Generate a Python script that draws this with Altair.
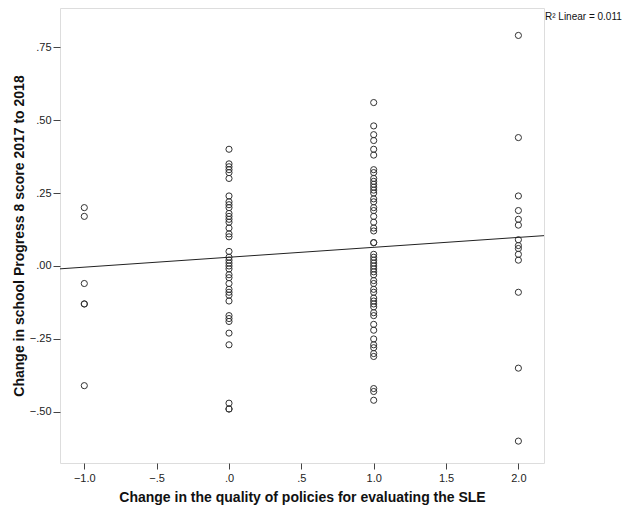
import altair as alt
import pandas as pd

# x = -1
y_m1 = [0.20, 0.17, -0.06, -0.13, -0.13, -0.41]
# x = 0
y_0 = [0.40, 0.35, 0.34, 0.33, 0.32, 0.30, 0.24, 0.22, 0.21, 0.20, 0.18, 0.17,
       0.16, 0.15, 0.13, 0.11, 0.10, 0.05, 0.03, 0.02, 0.01, 0.00, -0.01, -0.03,
       -0.04, -0.06, -0.08, -0.09, -0.10, -0.12, -0.17, -0.18, -0.19, -0.23,
       -0.27, -0.47, -0.49, -0.49]
# x = 1
y_1 = [0.56, 0.48, 0.45, 0.43, 0.40, 0.38, 0.33, 0.32, 0.30, 0.29, 0.28, 0.27,
       0.26, 0.25, 0.23, 0.22, 0.20, 0.19, 0.17, 0.15, 0.13, 0.12, 0.08, 0.08,
       0.04, 0.03, 0.02, 0.01, 0.00, -0.01, -0.02, -0.03, -0.05, -0.06, -0.08,
       -0.09, -0.11, -0.12, -0.13, -0.14, -0.16, -0.17, -0.20, -0.22, -0.25,
       -0.27, -0.28, -0.30, -0.31, -0.42, -0.43, -0.46]
# x = 2
y_2 = [0.79, 0.44, 0.24, 0.19, 0.16, 0.14, 0.09, 0.07, 0.06, 0.04, 0.02,
       -0.09, -0.35, -0.60]

x_ticks = [-1.0, -0.5, 0.0, 0.5, 1.0, 1.5, 2.0]
y_ticks = [-0.50, -0.25, 0.00, 0.25, 0.50, 0.75]
x_domain = [-1.168, 2.177]
y_domain = [-0.675, 0.884]
# linear fit line as drawn in the reference
fit_intercept = 0.030
fit_slope = 0.034
r2_label = "R\u00b2 Linear = 0.011"

rows = []
for xv, ys in [(-1.0, y_m1), (0.0, y_0), (1.0, y_1), (2.0, y_2)]:
    for yv in ys:
        rows.append({"x": xv, "y": yv})
df = pd.DataFrame(rows)
fit_df = pd.DataFrame({"x": x_domain})

FONT = "Liberation Sans"
LAB = "replace(datum.label, '0.', '.')"

xenc = alt.X("x:Q", scale=alt.Scale(domain=x_domain, nice=False, zero=False),
             axis=alt.Axis(values=x_ticks, format=".1f", labelExpr=LAB,
                           title="Change in the quality of policies for evaluating the SLE",
                           grid=False, domain=False, tickSize=6, tickColor="#444",
                           labelFont=FONT, labelFontSize=11, labelColor="#222",
                           labelPadding=3, titleFont=FONT, titleFontSize=14,
                           titleFontWeight="bold", titleColor="#111", titlePadding=7))
yenc = alt.Y("y:Q", scale=alt.Scale(domain=y_domain, nice=False, zero=False),
             axis=alt.Axis(values=y_ticks, format=".2f", labelExpr=LAB,
                           title="Change in school Progress 8 score 2017 to 2018",
                           grid=False, domain=False, tickSize=7, tickColor="#444",
                           labelFont=FONT, labelFontSize=11, labelColor="#222",
                           labelPadding=2, titleFont=FONT, titleFontSize=14,
                           titleFontWeight="bold", titleColor="#111", titlePadding=3))

points = alt.Chart(df).mark_point(shape="circle", filled=False, size=38,
                                  color="#333", strokeWidth=1, opacity=1).encode(x=xenc, y=yenc)

line = alt.Chart(fit_df).transform_calculate(
    y=f"{fit_intercept} + {fit_slope} * datum.x"
).mark_line(color="#222", strokeWidth=1, clip=True).encode(x="x:Q", y="y:Q")

r2 = alt.Chart(pd.DataFrame({"t": [r2_label]})).mark_text(
    align="left", baseline="middle", font=FONT, fontSize=10, color="#111"
).encode(x=alt.value(485), y=alt.value(9), text="t:N")

chart = alt.layer(points, line, r2).properties(
    width=484, height=455,
    autosize=alt.AutoSizeParams(type="none"),
    padding={"left": 52, "top": 0, "right": 80, "bottom": 50},
).configure_view(fill="#f0f0f0", stroke="#5a5a5a", strokeWidth=1.6
).configure(background="white")

chart.save("out.html", embed_options={"renderer": "svg", "actions": False})
